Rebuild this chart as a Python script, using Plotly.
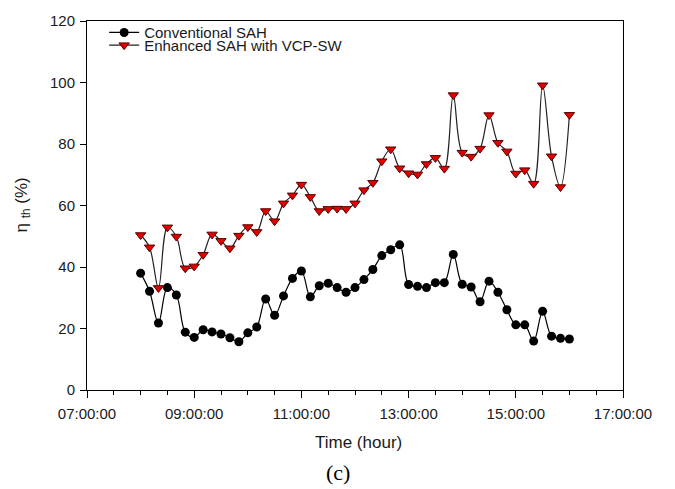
import plotly.graph_objects as go

# Time stamps (every 10 min, 08:00 to 16:00)
times = ["08:00", "08:10", "08:20", "08:30", "08:40", "08:50",
         "09:00", "09:10", "09:20", "09:30", "09:40", "09:50",
         "10:00", "10:10", "10:20", "10:30", "10:40", "10:50",
         "11:00", "11:10", "11:20", "11:30", "11:40", "11:50",
         "12:00", "12:10", "12:20", "12:30", "12:40", "12:50",
         "13:00", "13:10", "13:20", "13:30", "13:40", "13:50",
         "14:00", "14:10", "14:20", "14:30", "14:40", "14:50",
         "15:00", "15:10", "15:20", "15:30", "15:40", "15:50",
         "16:00"]

conventional = [38.0, 32.1, 21.8, 33.3, 30.9, 18.8,
                17.1, 19.6, 18.9, 18.2, 17.0, 15.7,
                18.6, 20.5, 29.6, 24.3, 30.6, 36.3,
                38.7, 30.3, 33.9, 34.7, 33.3, 31.8,
                33.3, 35.9, 39.2, 43.7, 45.6, 47.2,
                34.3, 33.7, 33.3, 34.9, 34.9, 44.1,
                34.4, 33.5, 28.7, 35.4, 31.8, 26.1,
                21.2, 21.2, 15.9, 25.6, 17.5, 16.8,
                16.6]

enhanced = [50.4, 46.4, 33.2, 52.9, 49.9, 39.6,
            40.2, 44.0, 50.6, 48.5, 46.1, 50.2,
            53.0, 51.4, 58.2, 54.9, 60.7, 63.3,
            66.8, 62.8, 58.2, 58.9, 59.0, 58.9,
            60.7, 65.0, 67.4, 74.4, 78.3, 72.1,
            70.5, 70.1, 73.5, 75.5, 72.0, 95.9,
            77.2, 75.9, 78.5, 89.4, 80.4, 77.6,
            70.4, 71.5, 67.1, 99.1, 76.0, 66.0,
            89.5]

x_range = ["07:00", "17:00"]
y_range = [0, 120]

DAY = "2020-01-01 "
xs = [DAY + t for t in times]

FONT = "Liberation Sans, Arial, sans-serif"
TXT = "#1a1a1a"

fig = go.Figure()
fig.add_trace(go.Scatter(
    x=xs, y=conventional, name="Conventional SAH", mode="lines+markers",
    line=dict(color="black", width=1.2, shape="spline", smoothing=1.0),
    marker=dict(symbol="circle", size=9, color="black"),
    showlegend=True, legend="legend"))
fig.add_trace(go.Scatter(
    x=xs, y=enhanced, name="Enhanced SAH with VCP-SW", mode="lines+markers",
    line=dict(color="#222222", width=1.2, shape="spline", smoothing=1.0),
    marker=dict(symbol="triangle-down", size=9, color="#e00000",
                line=dict(color="#5a0000", width=1)),
    showlegend=True, legend="legend2"))

fig.update_layout(
    width=675, height=489,
    showlegend=True,
    margin=dict(l=87, r=52, t=12, b=99),
    paper_bgcolor="white", plot_bgcolor="white",
    font=dict(family=FONT, size=15, color=TXT),
    legend=dict(x=0.032, y=(390 - 24) / 378, xanchor="left", yanchor="middle",
                bgcolor="rgba(0,0,0,0)", font=dict(size=15, color=TXT)),
    legend2=dict(x=0.032, y=(390 - 37) / 378, xanchor="left", yanchor="middle",
                 bgcolor="rgba(0,0,0,0)", font=dict(size=15, color=TXT)),
    xaxis=dict(
        type="date", range=[DAY + x_range[0], DAY + x_range[1]],
        dtick=7200000, tick0=DAY + "07:00", tickformat="%H:%M:%S",
        showline=True, linecolor="black", linewidth=1, mirror=True,
        ticks="outside", ticklen=7, tickcolor="black", tickwidth=1,
        minor=dict(dtick=1800000, ticks="outside", ticklen=4, tickcolor="black", showgrid=False),
        showgrid=False, zeroline=False, ticklabelstandoff=3,
        tickfont=dict(size=15, color=TXT)),
    yaxis=dict(
        range=y_range, dtick=20, tick0=0,
        showline=True, linecolor="black", linewidth=1, mirror=True,
        ticks="outside", ticklen=6, tickcolor="black", tickwidth=1,
        showgrid=False, zeroline=False, ticklabelstandoff=2,
        tickfont=dict(size=15, color=TXT)),
    annotations=[
        dict(text="Time (hour)", xref="paper", yref="paper",
             x=(358.7 - 87) / 536, y=(390 - 444) / 378,
             xanchor="center", yanchor="middle", showarrow=False,
             font=dict(size=17, color=TXT, family=FONT)),
        dict(text="(c)", xref="paper", yref="paper",
             x=(338 - 87) / 536, y=(390 - 474) / 378,
             xanchor="center", yanchor="middle", showarrow=False,
             font=dict(size=22, color="black", family="Liberation Serif, Times New Roman, serif")),
        dict(text="η <sub>th</sub> (%)", xref="paper", yref="paper",
             x=(22 - 87) / 536, y=0.5, textangle=-90,
             xanchor="center", yanchor="middle", showarrow=False,
             font=dict(size=17, color=TXT, family=FONT)),
    ],
)

fig.write_html("out.html")
